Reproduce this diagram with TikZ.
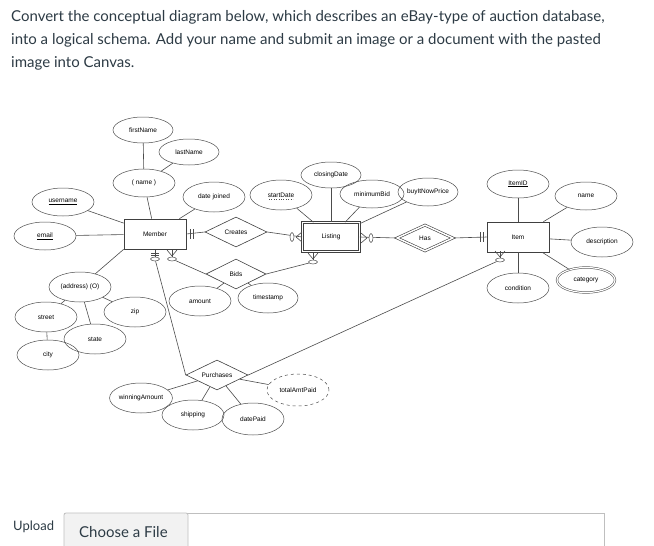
\documentclass[tikz,border=0pt]{standalone}
\usepackage{fontspec}
\setmainfont{Liberation Sans}
\newfontfamily\lato{Lato}
\usetikzlibrary{shapes.geometric}
\definecolor{txt}{HTML}{2D3B45}
\begin{document}
\begin{tikzpicture}[x=1pt,y=-1pt,
 att/.style={ellipse,draw=black!70,line width=0.5pt,minimum width=62pt,minimum height=28pt,inner sep=0pt,font=\fontsize{6.5}{7}\selectfont},
 ent/.style={rectangle,draw=black!75,line width=0.6pt,minimum width=62pt,minimum height=30pt,inner sep=0pt,font=\fontsize{6.5}{7}\selectfont},
 rel/.style={diamond,draw=black!75,line width=0.6pt,minimum width=62pt,minimum height=30pt,aspect=2,inner sep=0pt,font=\fontsize{6.5}{7}\selectfont},
 ln/.style={draw=black!70,line width=0.6pt},
 oo/.style={ellipse,draw=black!70,line width=0.5pt,fill=white,inner sep=0pt},
 hd/.style={font=\lato\fontsize{15}{18}\selectfont,text=txt,anchor=west,inner sep=0pt}]
\useasboundingbox (0,0) rectangle (654,546);
\fill[white] (0,0) rectangle (654,546);
% header
\node[hd] (h1) at (11,17) {Convert the conceptual diagram below, which describes an eBay-type of auction database,};
\node[hd] (h2) at (11,40) {into a logical schema. Add your name and submit an image or a document with the pasted};
\node[hd] (h3) at (11,63) {image into Canvas.};
% entities
\node[ent] (mem) at (155,234) {Member};
\node[ent,double,double distance=1.5pt,minimum width=57pt,minimum height=29pt] (lis) at (331,237) {Listing};
\node[ent] (item) at (518,237) {Item};
% relationships
\node[rel] (cre) at (236,232) {Creates};
\node[rel,minimum width=60pt] (bids) at (236,274) {Bids};
\node[rel,double,double distance=1.5pt,minimum width=56pt,minimum height=26pt] (has) at (425,238) {Has};
\node[rel] (pur) at (217,375) {Purchases};
% attributes
\node[att,minimum width=60pt,minimum height=26pt] (fn) at (143,130) {firstName};
\node[att,minimum width=60pt,minimum height=26pt] (lnm) at (189,152) {lastName};
\node[att] (nm) at (144,183) {( name )};
\node[att,minimum height=30pt] (dj) at (214,197) {date joined};
\node[att] (un) at (63,202) {\underline{username}};
\node[att] (em) at (45,236) {\underline{email}};
\node[att,minimum height=30pt] (addr) at (80,287) {(address) (O)};
\node[att,minimum height=30pt] (st) at (46,317) {street};
\node[att,minimum height=30pt] (zip) at (135,312) {zip};
\node[att,minimum height=30pt] (sta) at (95,339) {state};
\node[att,minimum height=30pt] (city) at (48,355) {city};
\node[att,minimum height=30pt] (sd) at (281,195) {startDate};
\draw[dotted,black!70] (269,199.5) -- (293,199.5);
\node[att,minimum width=60pt,minimum height=26pt] (cd) at (331,175) {closingDate};
\node[att,minimum width=64pt] (mb) at (372,194) {minimumBid};
\node[att,minimum width=60pt] (bn) at (428,192) {buyItNowPrice};
\node[att] (iid) at (518,184) {\underline{ItemID}};
\node[att] (inm) at (586,196) {name};
\node[att,minimum height=30pt] (desc) at (602,242) {description};
\node[att,double,double distance=1.2pt,minimum width=58pt,minimum height=25pt] (cat) at (586,280) {category};
\node[att,minimum height=30pt] (cond) at (518,288) {condition};
\node[att,minimum height=30pt] (amt) at (200,301) {amount};
\node[att,minimum width=60pt,minimum height=30pt] (ts) at (268,298) {timestamp};
\node[att,minimum width=60pt,minimum height=30pt] (wa) at (141,398) {winningAmount};
\node[att,minimum height=30pt] (sh) at (193,415) {shipping};
\node[att,minimum height=32pt] (dp) at (253,419) {datePaid};
\node[att,dashed,minimum height=32pt] (tap) at (298,390) {totalAmtPaid};
% attribute links
\draw[ln] (fn) -- (nm); \draw[ln] (lnm) -- (nm);
\draw[ln] (nm) -- (mem); \draw[ln] (dj) -- (mem);
\draw[ln] (un) -- (mem); \draw[ln] (em) -- (mem);
\draw[ln] (addr) -- (mem.south west);
\draw[ln] (st) -- (addr); \draw[ln] (sta) -- (addr); \draw[ln] (zip) -- (addr);
\draw[ln] (city) -- (st);
\draw[ln] (sd) -- (lis); \draw[ln] (cd) -- (lis); \draw[ln] (mb) -- (lis); \draw[ln] (bn) -- (lis);
\draw[ln] (iid) -- (item); \draw[ln] (inm) -- (item); \draw[ln] (desc) -- (item);
\draw[ln] (cat) -- (item); \draw[ln] (cond) -- (item);
\draw[ln] (amt) -- (bids); \draw[ln] (ts) -- (bids);
\draw[ln] (wa) -- (pur); \draw[ln] (sh) -- (pur); \draw[ln] (dp) -- (pur); \draw[ln] (tap) -- (pur);
% Member - Creates - Listing
\draw[ln] (mem.east) -- (cre.west);
\draw[ln] (190,229) -- (190,239) (193,229) -- (193,239);
\coordinate (lw) at (302,237);
\draw[ln] (cre.east) -- (lw);
\draw[ln] (296,237) -- (302,232) (296,237) -- (302,242);
\node[oo,minimum width=4pt,minimum height=9pt] (o1) at (292,237) {};
% Listing - Has - Item
\draw[ln] (lis.east) -- (has.west);
\draw[ln] (367,238) -- (361,233) (367,238) -- (361,243);
\node[oo,minimum width=4pt,minimum height=9pt] (o2) at (371,238) {};
\draw[ln] (has.east) -- (item.west);
\draw[ln] (480,232) -- (480,242) (483,232) -- (483,242);
% Member - Bids - Listing
\coordinate (mb1) at (172,250);
\node[oo,minimum width=9pt,minimum height=4pt] (o3) at (172,259) {};
\draw[ln] (mb1) -- (o3);
\draw[ln] (172,256) -- (167,250) (172,256) -- (177,250);
\draw[ln] (o3) -- (bids.west);
\coordinate (lb1) at (313,253);
\node[oo,minimum width=9pt,minimum height=4pt] (o4) at (313,262) {};
\draw[ln] (lb1) -- (o4);
\draw[ln] (313,259) -- (308,253) (313,259) -- (318,253);
\draw[ln] (o4) -- (bids.east);
% Member - Purchases
\coordinate (mp1) at (155,250);
\node[oo,minimum width=9pt,minimum height=4pt] (o5) at (155,259) {};
\draw[ln] (mp1) -- (o5);
\draw[ln] (151,253) -- (159,253) (151,255.5) -- (159,255.5);
\draw[ln] (o5) -- (pur.west);
% Item - Purchases
\coordinate (ip1) at (500,251);
\node[oo,minimum width=9pt,minimum height=4pt] (o6) at (500,260) {};
\draw[ln] (ip1) -- (o6);
\draw[ln] (500,257) -- (495,251) (500,257) -- (505,251);
\draw[ln] (o6) -- (pur.east);
% upload
\node[hd] (up) at (13,527) {\fontsize{13}{15}\selectfont Upload};
\draw[black!25,line width=0.8pt] (64,513) rectangle (604,550);
\filldraw[fill=black!5,draw=black!25,line width=0.8pt,rounded corners=2pt] (64,513) rectangle (188,550);
\node[hd] (cf) at (79,532) {Choose a File};
\end{tikzpicture}
\end{document}
